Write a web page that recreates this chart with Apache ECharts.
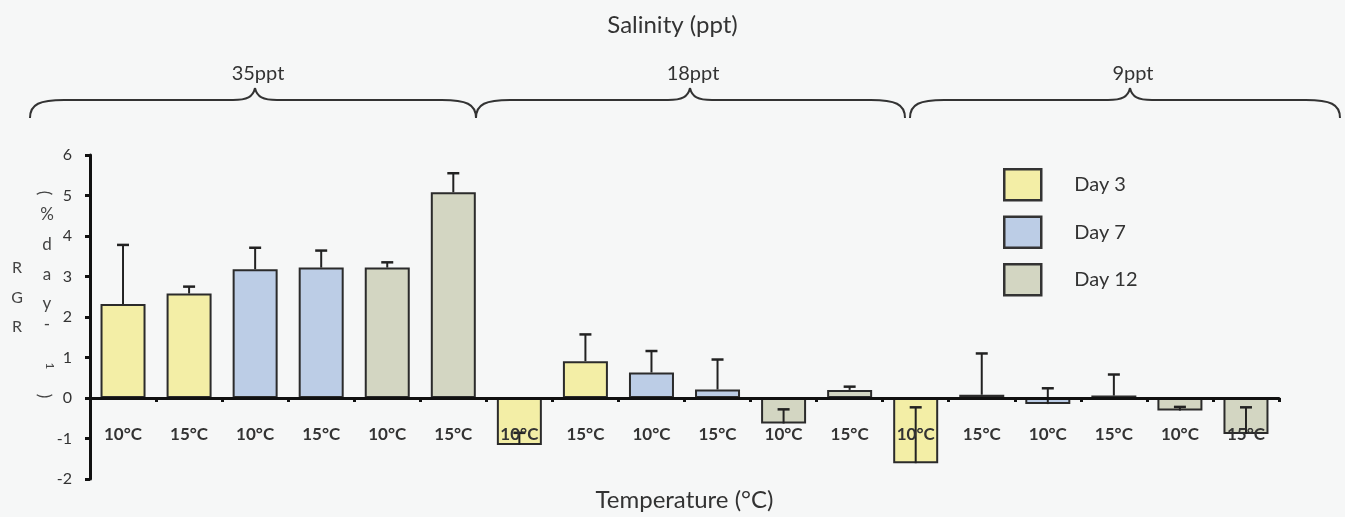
<!DOCTYPE html>
<html><head><meta charset="utf-8">
<script src="https://cdn.jsdelivr.net/npm/echarts@6/dist/echarts.min.js"></script>
<style>html,body{margin:0;padding:0;background:#f6f7f7}#c{width:1345px;height:517px}</style>
</head><body><div id="c"></div>
<script>
const categories = ['10°C','15°C','10°C','15°C','10°C','15°C','10°C','15°C','10°C','15°C','10°C','15°C','10°C','15°C','10°C','15°C','10°C','15°C'];
const day3  = [2.32, 2.58, '-', '-', '-', '-', -1.16, 0.91, '-', '-', '-', '-', -1.61, 0.08, '-', '-', '-', '-'];
const day7  = ['-', '-', 3.18, 3.22, '-', '-', '-', '-', 0.63, 0.21, '-', '-', '-', '-', -0.15, 0.06, '-', '-'];
const day12 = ['-', '-', '-', '-', 3.22, 5.08, '-', '-', '-', '-', -0.63, 0.20, '-', '-', '-', '-', -0.31, -0.89];
const errPlus = [1.46, 0.17, 0.53, 0.42, 0.13, 0.47, 0.30, 0.66, 0.53, 0.74, 0.35, 0.08, 1.38, 1.02, 0.39, 0.52, 0.09, 0.66];
const salinityLabels = ['35ppt', '18ppt', '9ppt'];
const yTicks = [-2, -1, 0, 1, 2, 3, 4, 5, 6];

const FONT = 'Lato, "Open Sans", sans-serif';
const colors = ['#f3eea6', '#bccde6', '#d3d6c2'];

const means = categories.map((c, i) => [day3[i], day7[i], day12[i]].find(x => x !== '-'));
const errData = categories.map((c, i) => [i, means[i], errPlus[i]]);

const STROKE = {stroke: '#333', lineWidth: 2, fill: null};
function bez(a, c1, c2, b) {
  return {type: 'bezierCurve', shape: {x1: a[0], y1: a[1], cpx1: c1[0], cpy1: c1[1], cpx2: c2[0], cpy2: c2[1], x2: b[0], y2: b[1]}, style: STROKE};
}
function seg(a, b) {
  return {type: 'line', shape: {x1: a[0], y1: a[1], x2: b[0], y2: b[1]}, style: STROKE};
}
function brace(x0, xp, x1) {
  return [
    bez([x0, 118], [x0, 104], [x0 + 10, 100], [x0 + 34, 100]),
    seg([x0 + 34, 100], [xp - 22, 100]),
    bez([xp - 22, 100], [xp - 8, 100], [xp - 2, 97], [xp, 88]),
    bez([xp, 88], [xp + 2, 97], [xp + 8, 100], [xp + 22, 100]),
    seg([xp + 22, 100], [x1 - 34, 100]),
    bez([x1 - 34, 100], [x1 - 10, 100], [x1, 104], [x1, 118])
  ];
}
const braceSpecs = [[30, 255, 476], [476, 690, 905], [910, 1130, 1340]];

function txt(x, y, t, rot, size) {
  const o = {type: 'text', x: x, y: y, style: {text: t, font: (size || 17) + 'px ' + FONT, fill: '#444', align: 'center', verticalAlign: 'middle'}};
  if (rot) o.rotation = rot;
  return o;
}

const graphics = [];
braceSpecs.forEach((b, i) => {
  brace(b[0], b[1], b[2]).forEach(g => graphics.push(g));
  graphics.push({type: 'text', x: b[1] + 3, y: 74, style: {text: salinityLabels[i], font: '20px ' + FONT, fill: '#333', align: 'center', verticalAlign: 'middle'}});
});
[['R', 268], ['G', 298], ['R', 327]].forEach(a => graphics.push(txt(17, a[1], a[0], 0, 16)));
graphics.push(txt(44, 193, '(', -Math.PI / 2));
[['%', 215], ['d', 245], ['a', 275], ['y', 304], ['-', 325]].forEach(a => graphics.push(txt(47, a[1], a[0])));
graphics.push(txt(50, 366, '1', -Math.PI / 2, 12));
graphics.push(txt(44, 396, ')', -Math.PI / 2));

function barSeries(name, data, color) {
  return {type: 'bar', name: name, data: data, barWidth: 45, barGap: '-100%',
    itemStyle: {color: color, borderColor: '#2b2b2b', borderWidth: 2}};
}

const chart = echarts.init(document.getElementById('c'));
chart.setOption({
  backgroundColor: '#f6f7f7',
  animation: false,
  title: {text: 'Salinity (ppt)', left: 'center', top: 8, textStyle: {fontFamily: FONT, fontSize: 24, fontWeight: 'normal', color: '#333'}},
  grid: {left: 90, right: 66, top: 155, bottom: 38, containLabel: false, outerBoundsMode: 'none'},
  legend: {
    orient: 'vertical', left: 1003, top: 168, padding: 0,
    itemWidth: 37, itemHeight: 31, itemGap: 14,
    icon: 'rect',
    itemStyle: {borderColor: '#333', borderWidth: 2.5},
    textStyle: {fontFamily: FONT, fontSize: 20, color: '#333', padding: [0, 0, 0, 28]},
    data: ['Day 3', 'Day 7', 'Day 12']
  },
  xAxis: {
    type: 'category', data: categories, z: 8,
    axisLine: {onZero: true, lineStyle: {color: '#111', width: 3, cap: 'round'}},
    axisTick: {show: true, length: 4, lineStyle: {color: '#111', width: 3}},
    axisLabel: {margin: -53, fontFamily: FONT, fontSize: 17, fontWeight: 'bold', color: '#333'},
    name: 'Temperature (°C)', nameLocation: 'middle', nameGap: 9,
    nameTextStyle: {fontFamily: FONT, fontSize: 24, color: '#333'}
  },
  yAxis: {
    type: 'value', min: yTicks[0], max: yTicks[yTicks.length - 1], interval: 1, z: 8,
    axisLine: {show: true, lineStyle: {color: '#111', width: 3}},
    axisTick: {show: true, length: 5, lineStyle: {color: '#111', width: 3}},
    axisLabel: {margin: 18, fontFamily: FONT, fontSize: 16, color: '#333'},
    splitLine: {show: false}
  },
  graphic: graphics,
  series: [
    barSeries('Day 3', day3, colors[0]),
    barSeries('Day 7', day7, colors[1]),
    barSeries('Day 12', day12, colors[2]),
    {
      type: 'custom', name: 'err', z: 5,
      data: errData,
      encode: {x: 0, y: 1},
      renderItem: function (params, api) {
        const idx = api.value(0), v = api.value(1), e = api.value(2);
        const p0 = api.coord([idx, v]);
        const p1 = api.coord([idx, v + e]);
        const hw = 6;
        return {
          type: 'group',
          children: [
            {type: 'line', shape: {x1: p0[0], y1: p0[1], x2: p1[0], y2: p1[1]}, style: {stroke: '#222', lineWidth: 2}},
            {type: 'line', shape: {x1: p1[0] - hw, y1: p1[1], x2: p1[0] + hw, y2: p1[1]}, style: {stroke: '#222', lineWidth: 2.5}}
          ]
        };
      }
    }
  ]
});
</script></body></html>
